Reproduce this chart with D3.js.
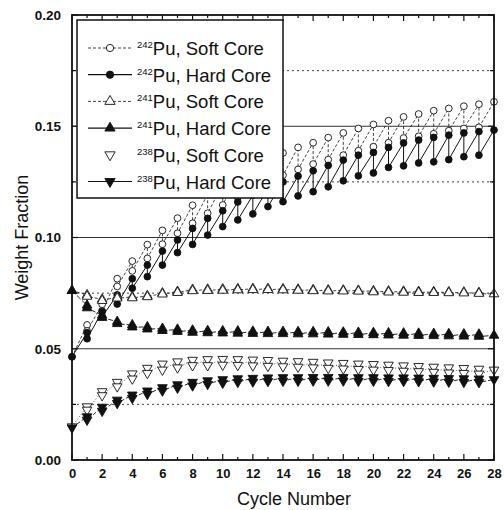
<!DOCTYPE html>
<html>
<head>
<meta charset="utf-8">
<script src="https://cdn.jsdelivr.net/npm/d3@7"></script>
<style>
  body { margin: 0; background: #fff; }
  text { font-family: "Liberation Sans", Arial, sans-serif; fill: #111; }
</style>
</head>
<body>
<script>
// cycle numbers and tick labels
const cycles = d3.range(0, 29);
const xTickLabels = d3.range(0, 29, 2);
const yTickLabels = [0.00, 0.05, 0.10, 0.15, 0.20];

// values at start of each cycle (cycles 0..27) and at end (cycles 1..28)
const pu242SoftStart = [0.0464, 0.0580, 0.0670, 0.0780, 0.0850, 0.0906, 0.0970, 0.1019, 0.1064, 0.1109, 0.1146, 0.1180, 0.1215, 0.1245, 0.1280, 0.1306, 0.1330, 0.1350, 0.1370, 0.1390, 0.1408, 0.1426, 0.1447, 0.1455, 0.1466, 0.1480, 0.1490, 0.1495];
const pu242SoftEnd   = [0.0607, 0.0700, 0.0815, 0.0894, 0.0968, 0.1032, 0.1087, 0.1145, 0.1195, 0.1240, 0.1280, 0.1318, 0.1350, 0.1380, 0.1405, 0.1426, 0.1449, 0.1470, 0.1490, 0.1508, 0.1525, 0.1542, 0.1555, 0.1570, 0.1580, 0.1590, 0.1599, 0.1610];
const pu242HardStart = [0.0464, 0.0545, 0.0644, 0.0701, 0.0772, 0.0824, 0.0876, 0.0932, 0.0969, 0.1011, 0.1049, 0.1079, 0.1106, 0.1139, 0.1161, 0.1187, 0.1206, 0.1228, 0.1255, 0.1277, 0.1290, 0.1315, 0.1322, 0.1335, 0.1340, 0.1350, 0.1363, 0.1370];
const pu242HardEnd   = [0.0572, 0.0667, 0.0742, 0.0815, 0.0876, 0.0939, 0.0989, 0.1041, 0.1086, 0.1120, 0.1160, 0.1190, 0.1220, 0.1250, 0.1276, 0.1300, 0.1324, 0.1348, 0.1370, 0.1382, 0.1405, 0.1425, 0.1438, 0.1450, 0.1460, 0.1470, 0.1476, 0.1483];

const pu241SoftStart = [0.0761, 0.0735, 0.0716, 0.0727, 0.0728, 0.0733, 0.0745, 0.0752, 0.0760, 0.0761, 0.0762, 0.0764, 0.0765, 0.0765, 0.0764, 0.0762, 0.0760, 0.0759, 0.0759, 0.0758, 0.0755, 0.0754, 0.0753, 0.0752, 0.0752, 0.0751, 0.0750, 0.0748];
const pu241SoftEnd   = [0.0742, 0.0722, 0.0734, 0.0733, 0.0738, 0.0750, 0.0757, 0.0766, 0.0767, 0.0768, 0.0769, 0.0770, 0.0770, 0.0769, 0.0767, 0.0765, 0.0764, 0.0763, 0.0762, 0.0760, 0.0759, 0.0758, 0.0757, 0.0756, 0.0755, 0.0754, 0.0752, 0.0746];
const pu241HardStart = [0.0761, 0.0683, 0.0640, 0.0612, 0.0597, 0.0588, 0.0581, 0.0577, 0.0573, 0.0571, 0.0570, 0.0569, 0.0568, 0.0567, 0.0567, 0.0566, 0.0566, 0.0565, 0.0564, 0.0563, 0.0562, 0.0561, 0.0560, 0.0559, 0.0558, 0.0557, 0.0556, 0.0555];
const pu241HardEnd   = [0.0695, 0.0650, 0.0622, 0.0607, 0.0598, 0.0591, 0.0587, 0.0583, 0.0581, 0.0580, 0.0579, 0.0578, 0.0577, 0.0577, 0.0576, 0.0576, 0.0575, 0.0574, 0.0573, 0.0572, 0.0571, 0.0570, 0.0569, 0.0568, 0.0567, 0.0566, 0.0565, 0.0560];

const pu238SoftStart = [0.0150, 0.0225, 0.0290, 0.0330, 0.0365, 0.0390, 0.0405, 0.0415, 0.0425, 0.0425, 0.0427, 0.0426, 0.0424, 0.0422, 0.0420, 0.0418, 0.0415, 0.0413, 0.0410, 0.0408, 0.0405, 0.0403, 0.0400, 0.0398, 0.0395, 0.0392, 0.0390, 0.0387];
const pu238SoftEnd   = [0.0240, 0.0308, 0.0350, 0.0388, 0.0413, 0.0432, 0.0442, 0.0449, 0.0452, 0.0453, 0.0452, 0.0450, 0.0448, 0.0445, 0.0443, 0.0440, 0.0437, 0.0435, 0.0432, 0.0430, 0.0427, 0.0424, 0.0421, 0.0418, 0.0415, 0.0412, 0.0409, 0.0405];
const pu238HardStart = [0.0145, 0.0180, 0.0220, 0.0255, 0.0278, 0.0296, 0.0311, 0.0324, 0.0334, 0.0341, 0.0346, 0.0350, 0.0352, 0.0354, 0.0355, 0.0355, 0.0356, 0.0356, 0.0356, 0.0355, 0.0355, 0.0354, 0.0354, 0.0353, 0.0352, 0.0351, 0.0350, 0.0349];
const pu238HardEnd   = [0.0195, 0.0238, 0.0270, 0.0293, 0.0311, 0.0326, 0.0339, 0.0350, 0.0357, 0.0362, 0.0366, 0.0368, 0.0370, 0.0371, 0.0371, 0.0372, 0.0372, 0.0372, 0.0371, 0.0371, 0.0370, 0.0370, 0.0369, 0.0368, 0.0367, 0.0366, 0.0365, 0.0362];

const series = [
  {iso: "242", core: "Soft Core", start: pu242SoftStart, end: pu242SoftEnd, sym: "circle", filled: false, dash: "3,2", lw: 0.8},
  {iso: "242", core: "Hard Core", start: pu242HardStart, end: pu242HardEnd, sym: "circle", filled: true, dash: null, lw: 1},
  {iso: "241", core: "Soft Core", start: pu241SoftStart, end: pu241SoftEnd, sym: "up", filled: false, dash: "3,2", lw: 0.8},
  {iso: "241", core: "Hard Core", start: pu241HardStart, end: pu241HardEnd, sym: "up", filled: true, dash: "5,2", lw: 0.9},
  {iso: "238", core: "Soft Core", start: pu238SoftStart, end: pu238SoftEnd, sym: "down", filled: false, dash: "1,2", lw: 0.7},
  {iso: "238", core: "Hard Core", start: pu238HardStart, end: pu238HardEnd, sym: "down", filled: true, dash: "4,2", lw: 0.9}
];

const svg = d3.select("body").append("svg")
    .attr("width", 504)
    .attr("height", 510);

const margin = {top: 15, right: 10, bottom: 50, left: 72},
      width = 504 - margin.left - margin.right,
      height = 510 - margin.top - margin.bottom;

const g = svg.append("g").attr("transform", `translate(${margin.left},${margin.top})`);

const x = d3.scaleLinear().domain([0, 28]).range([0, width]);
const y = d3.scaleLinear().domain([0, 0.20]).range([height, 0]);

// grid: solid at major, dotted at minor
const minorY = [0.025, 0.075, 0.125, 0.175];
g.selectAll(".gmaj").data([0.05, 0.10, 0.15]).join("line")
    .attr("x1", 0).attr("x2", width)
    .attr("y1", d => y(d)).attr("y2", d => y(d))
    .attr("stroke", "#333").attr("stroke-width", 1);
g.selectAll(".gmin").data(minorY).join("line")
    .attr("x1", 0).attr("x2", width)
    .attr("y1", d => y(d)).attr("y2", d => y(d))
    .attr("stroke", "#444").attr("stroke-width", 1)
    .attr("stroke-dasharray", "2,3");

function symPath(s, size) {
  const type = s === "circle" ? d3.symbolCircle : d3.symbolTriangle;
  return d3.symbol().type(type).size(size)();
}

function points(s) {
  const pts = [{x: 0, y: s.start[0]}];
  for (let n = 1; n <= 28; n++) {
    pts.push({x: n, y: s.end[n - 1]});
    if (n < 28) pts.push({x: n, y: s.start[n]});
  }
  return pts;
}

const line = d3.line().x(d => x(d.x)).y(d => y(d.y));

series.forEach(s => {
  const pts = points(s);
  g.append("path")
      .datum(pts)
      .attr("fill", "none")
      .attr("stroke", "#111")
      .attr("stroke-width", s.lw)
      .attr("stroke-dasharray", s.dash)
      .attr("d", line);
  g.selectAll(null).data(pts).join("path")
      .attr("transform", d => `translate(${x(d.x)},${y(d.y)})` + (s.sym === "down" ? " rotate(180)" : ""))
      .attr("d", symPath(s.sym, s.sym === "circle" ? 36 : 40))
      .attr("fill", s.filled ? "#111" : "#fff")
      .attr("stroke", "#111")
      .attr("stroke-width", 0.9);
});

// axes with inward ticks
const xb = g.append("g").attr("transform", `translate(0,${height})`)
    .call(d3.axisBottom(x).tickValues(cycles).tickSize(0).tickPadding(5).tickFormat(d => d % 2 === 0 ? d : ""));
xb.selectAll("text").attr("dy", "1em").style("font-size", "13px").style("font-weight", "bold");
xb.select(".domain").remove();

const yl = g.append("g")
    .call(d3.axisLeft(y).tickValues(yTickLabels).tickSize(0).tickPadding(11).tickFormat(d3.format(".2f")));
yl.selectAll("text").style("font-size", "13.5px").style("font-weight", "bold");
yl.select(".domain").remove();

// tick marks on all four sides
cycles.forEach(c => {
  const len = c % 2 === 0 ? 6 : 3;
  g.append("line").attr("x1", x(c)).attr("x2", x(c)).attr("y1", height).attr("y2", height - len)
      .attr("stroke", "#111").attr("stroke-width", 1.2);
  g.append("line").attr("x1", x(c)).attr("x2", x(c)).attr("y1", 0).attr("y2", len)
      .attr("stroke", "#111").attr("stroke-width", 1.2);
});
d3.range(0, 9).forEach(i => {
  const v = i * 0.025;
  const len = i % 2 === 0 ? 6 : 4;
  g.append("line").attr("x1", 0).attr("x2", len).attr("y1", y(v)).attr("y2", y(v))
      .attr("stroke", "#111").attr("stroke-width", 1.2);
  g.append("line").attr("x1", width).attr("x2", width - len).attr("y1", y(v)).attr("y2", y(v))
      .attr("stroke", "#111").attr("stroke-width", 1.2);
});

g.append("rect").attr("width", width).attr("height", height)
    .attr("fill", "none").attr("stroke", "#111").attr("stroke-width", 1.8);

// axis titles
svg.append("text")
    .attr("x", 294).attr("y", 505)
    .attr("text-anchor", "middle")
    .style("font-size", "18px")
    .text("Cycle Number");
svg.append("text")
    .attr("transform", `translate(28,${margin.top + height / 2}) rotate(-90)`)
    .attr("text-anchor", "middle")
    .style("font-size", "18px")
    .text("Weight Fraction");

// legend
const lg = svg.append("g").attr("transform", "translate(77,20)");
lg.append("rect").attr("width", 206).attr("height", 178)
    .attr("fill", "#fff").attr("stroke", "#111").attr("stroke-width", 1.5);
series.forEach((s, i) => {
  const ly = 28 + i * 26.7;
  if (s.iso !== "238" || s.filled) {
    lg.append("line").attr("x1", 11).attr("x2", 55).attr("y1", ly).attr("y2", ly)
        .attr("stroke", "#111").attr("stroke-width", s.filled ? 1.2 : 0.8)
        .attr("stroke-dasharray", s.filled ? null : "3,2");
  }
  lg.append("path")
      .attr("transform", `translate(33,${ly})` + (s.sym === "down" ? " rotate(180)" : ""))
      .attr("d", symPath(s.sym, s.sym === "circle" ? 42 : 46))
      .attr("fill", s.filled ? "#111" : "#fff")
      .attr("stroke", "#111").attr("stroke-width", 0.9);
  const t = lg.append("text").attr("x", 60).attr("y", ly + 7).style("font-size", "18.5px");
  t.append("tspan").attr("dy", "-7").style("font-size", "9.5px").text(s.iso);
  t.append("tspan").attr("dy", "7").text("Pu, " + s.core);
});
</script>
</body>
</html>
